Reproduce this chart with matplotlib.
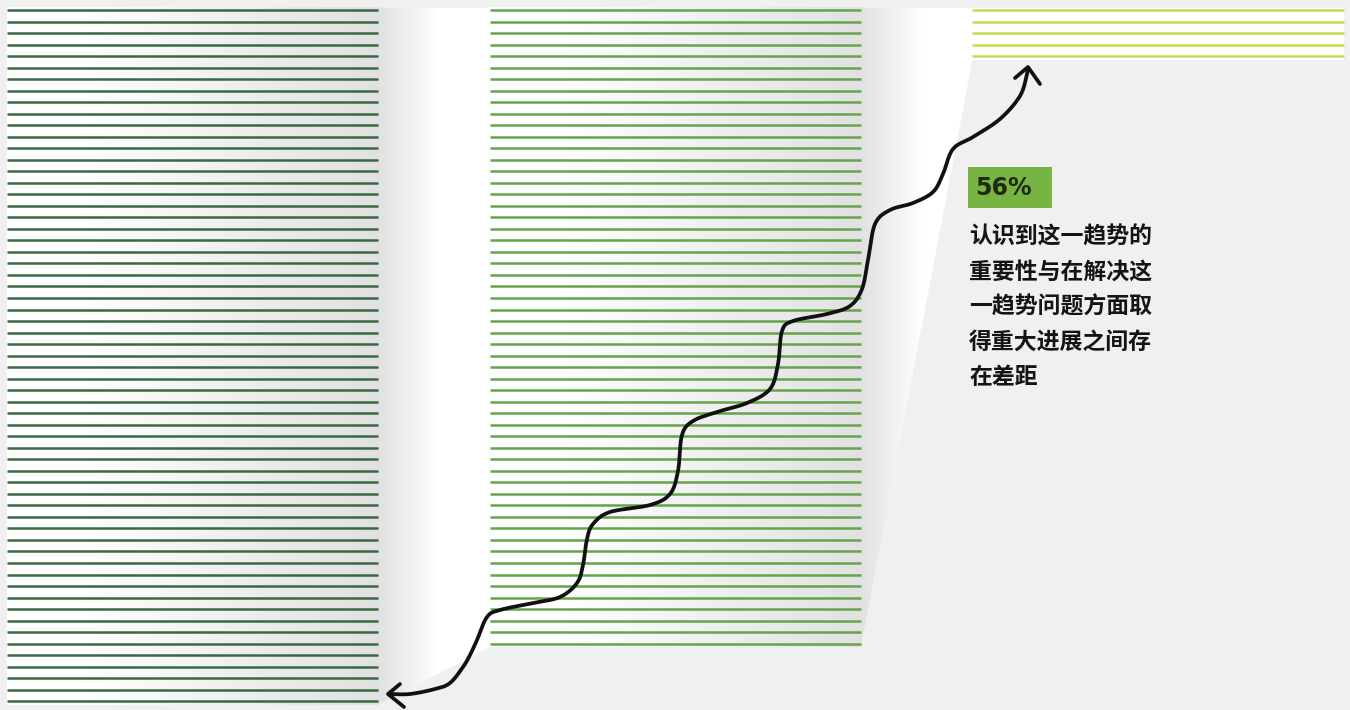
import numpy as np
import matplotlib.pyplot as plt
from matplotlib.patches import Polygon, Rectangle
from matplotlib.colors import to_rgb

plt.rcParams['font.family'] = ['Noto Sans CJK SC', 'DejaVu Sans']

# data: number of stripes in each column
line_counts = [61, 56, 5]
line_colors = ['#3a6843', '#66a34c', '#c6dc4e']
badge_label = '56%'
note_lines = ['认识到这一趋势的',
              '重要性与在解决这',
              '一趋势问题方面取',
              '得重大进展之间存',
              '在差距']

BG = '#f0f0f0'


def grad_img(stops, n=256):
    pos = np.linspace(0, 1, n)
    xs = [s[0] for s in stops]
    cols = np.array([to_rgb(s[1]) for s in stops])
    rgb = np.stack([np.interp(pos, xs, cols[:, k]) for k in range(3)], axis=-1)
    return rgb[None, :, :]


def catmull(pts, n=14):
    P = np.array(pts, float)
    P = np.vstack([P[0], P, P[-1]])
    out = []
    t = np.linspace(0, 1, n, endpoint=False)[:, None]
    for i in range(1, len(P) - 2):
        p0, p1, p2, p3 = P[i - 1], P[i], P[i + 1], P[i + 2]
        out.append(0.5 * (2 * p1 + (-p0 + p2) * t
                          + (2 * p0 - 5 * p1 + 4 * p2 - p3) * t ** 2
                          + (-p0 + 3 * p1 - 3 * p2 + p3) * t ** 3))
    out.append(P[-2][None])
    return np.vstack(out)


fig = plt.figure(figsize=(13.5, 7.1), dpi=100)
fig.patch.set_facecolor(BG)

# main axes: x in column units, y in stripe units
ax = fig.add_axes([0, 0, 1, 1])
ax.axis('off')

hw = 0.3843
top = -0.2
bottoms = [n - 1 + 0.3 for n in line_counts]

bar_grad = grad_img([(0, '#ffffff'), (0.2, '#ffffff'), (1, '#e1e1e1')])
gap_grad = grad_img([(0, '#e1e1e1'), (0.55, '#ffffff'), (1, '#ffffff')])
white = grad_img([(0, '#ffffff'), (1, '#ffffff')])

for j, n in enumerate(line_counts):
    img = bar_grad if j < len(line_counts) - 1 else white
    ax.imshow(img, extent=(j - hw, j + hw, bottoms[j], top), aspect='auto',
              interpolation='bilinear', zorder=1)
    ax.hlines(np.arange(n), j - hw, j + hw, colors=line_colors[j], lw=1.8, zorder=3)
    if j + 1 < len(line_counts):
        poly = Polygon([(j + hw, top), (j + 1 - hw, top),
                        (j + 1 - hw, bottoms[j + 1]), (j + hw, bottoms[j])],
                       closed=True, fc='none', ec='none')
        ax.add_patch(poly)
        im = ax.imshow(gap_grad, extent=(j + hw, j + 1 - hw, bottoms[j], top),
                       aspect='auto', interpolation='bilinear', zorder=1)
        im.set_clip_path(poly)

ax.set_xlim(-0.3988, 2.3977)
ax.set_ylim(60.76, -0.868)

# overlay in pixel coordinates for the hand drawn arrow and notes
ov = fig.add_axes([0, 0, 1, 1])
ov.set_xlim(0, 1350)
ov.set_ylim(710, 0)
ov.axis('off')

path = [(390, 694), (410, 694), (435, 689), (450, 683), (463, 667), (470, 655),
        (477, 640), (487, 617), (500, 610), (533, 603), (560, 597), (577, 583),
        (583, 565), (587, 539), (593, 524), (610, 512), (650, 505), (670, 494),
        (678, 471), (682, 435), (693, 421), (717, 412), (747, 403), (770, 389),
        (778, 364), (782, 331), (793, 321), (827, 314), (850, 306), (862, 289),
        (868, 260), (875, 224), (890, 210), (913, 203), (933, 192), (943, 174),
        (953, 149), (973, 137), (1000, 119), (1020, 96), (1027, 74), (1028, 68)]
curve = catmull(path)
kw = dict(color='#111111', lw=2.7, solid_capstyle='round', solid_joinstyle='round')
ov.plot(curve[:, 0], curve[:, 1], **kw)
ov.plot([1015, 1028, 1040], [78, 67, 84], **kw)
ov.plot([400, 388, 404], [684, 694, 707], **kw)

ov.add_patch(Rectangle((968, 167), 84, 41, fc='#78b443', ec='none'))
ov.text(975, 188, badge_label, fontsize=17, fontweight='bold', color='#1d2b12',
        va='center', ha='left', family=['DejaVu Sans'])

for k, line in enumerate(note_lines):
    ov.text(969, 237 + 35 * k, line, fontsize=16.5, fontweight='bold', color='#141414',
            va='center', ha='left')

fig.savefig('out.png', dpi=100, facecolor=fig.get_facecolor())
